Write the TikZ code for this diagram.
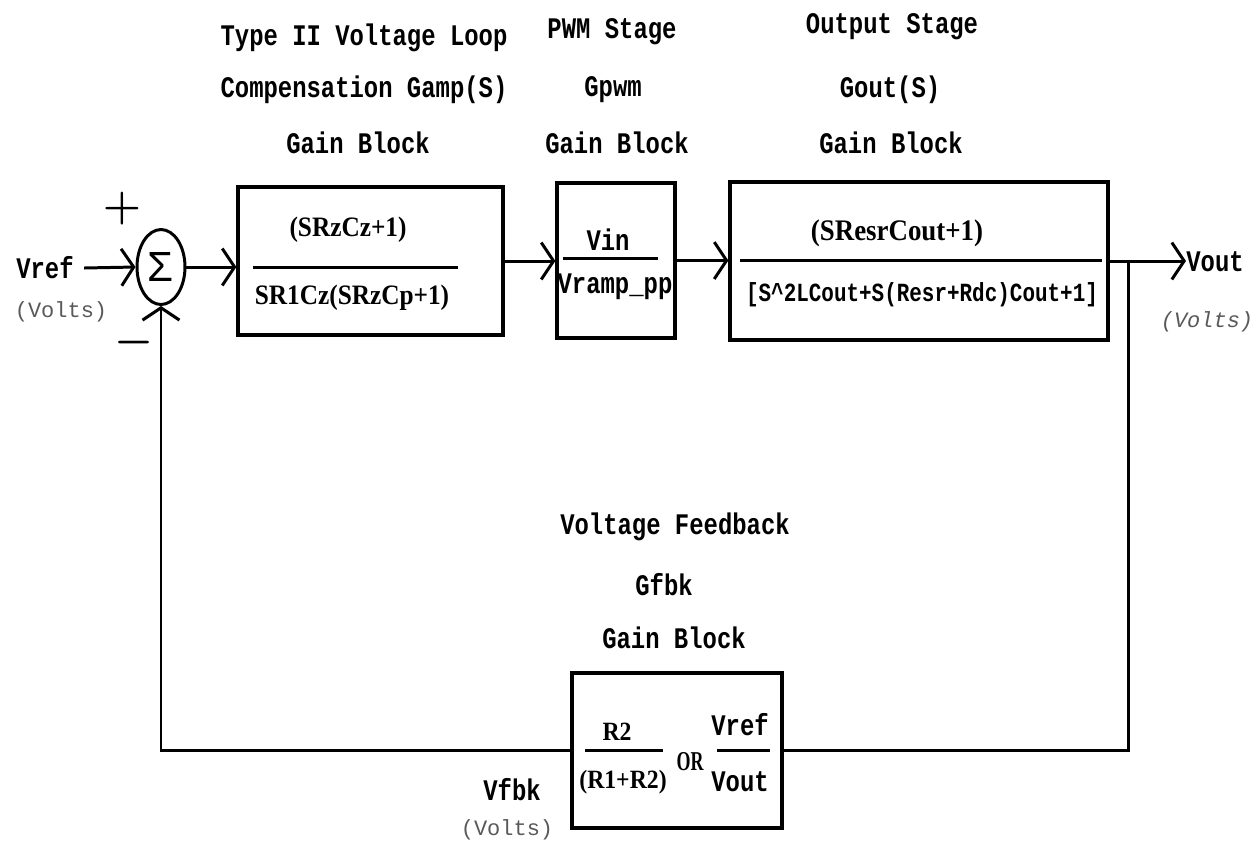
\documentclass[tikz,border=0pt]{standalone}
\usepackage{fontspec}
\setmainfont{Liberation Serif}
\newfontfamily\lblfont[FakeStretch=0.8]{Liberation Mono}
\newfontfamily\voltfont{Liberation Mono}
\newfontfamily\fracfont[FakeStretch=0.9]{Liberation Serif}
\newfontfamily\orfont[FakeStretch=0.66]{Liberation Serif}
\newfontfamily\sigfont{Liberation Sans}
\usetikzlibrary{arrows.meta,shapes.geometric}

\tikzset{
  wire/.style={line width=1.7pt},
  sig/.style={wire, -{Straight Barb[length=7pt,width=21pt,line width=1.7pt]}},
  blk/.style={draw, line width=1.9pt, inner sep=0pt},
  lbl/.style={font=\lblfont\bfseries\fontsize{17}{20}\selectfont, inner sep=0pt},
  den/.style={font=\lblfont\bfseries\fontsize{14.9}{18}\selectfont, inner sep=0pt},
  frac/.style={font=\fracfont\bfseries\fontsize{16}{19}\selectfont, inner sep=0pt},
  volts/.style={font=\voltfont\fontsize{12.5}{15}\selectfont, text=black!65, inner sep=0pt},
  sign/.style={font=\boldmath\fontsize{24}{24}\selectfont, inner sep=0pt}
}

\begin{document}
\begin{tikzpicture}[x=0.02cm, y=-0.02cm]
        \useasboundingbox (0,0) rectangle (1260,843);
        % headings
        \node[lbl] (t1a) at (364,38) {Type II Voltage Loop};
        \node[lbl] (t1b) at (364,90) {Compensation Gamp(S)};
        \node[lbl] (t1c) at (358,143) {Gain Block};
        \node[lbl] (t2a) at (612,32) {PWM Stage};
        \node[lbl] (t2b) at (613,90) {Gpwm};
        \node[lbl] (t2c) at (617,143) {Gain Block};
        \node[lbl] (t3a) at (892,27) {Output Stage};
        \node[lbl] (t3b) at (890,90) {Gout(S)};
        \node[lbl] (t3c) at (891,143) {Gain Block};
        \node[lbl] (t4a) at (675,527) {Voltage Feedback};
        \node[lbl] (t4b) at (664,585) {Gfbk};
        \node[lbl] (t4c) at (674,638) {Gain Block};
        % summing junction
        \node[draw, ellipse, line width=1.7pt, minimum width=0.96cm, minimum height=1.5cm, inner sep=0pt,
              font=\sigfont\fontsize{24}{24}\selectfont] (sum) at (161,267) {Σ};
        \node[sign] (plus) at (122,209) {$+$};
        \node[sign] (minus) at (134,343) {$-$};
        \node[lbl] (vref) at (45,268) {Vref};
        \node[volts] (vrefv) at (61,312) {(Volts)};
        % blocks
        \node[blk, minimum width=5.3cm, minimum height=2.96cm] (gamp) at (370.5,261) {};
        \node[blk, minimum width=2.36cm, minimum height=3.1cm] (gpwm) at (616,260.5) {};
        \node[blk, minimum width=7.56cm, minimum height=3.16cm] (gout) at (919,261) {};
        \node[blk, minimum width=4.2cm, minimum height=3.1cm] (gfbk) at (677,750.5) {};
        % fractions
        \node[frac] (ganum) at (348,230) {(SRzCz+1)};
        \draw[wire] (253,267) -- (458,267);
        \node[frac] (gaden) at (352,298) {SR1Cz(SRzCp+1)};
        \node[lbl] (gpnum) at (608,240) {Vin};
        \draw[wire] (563,258) -- (658,258);
        \node[lbl] (gpden) at (615,287) {Vramp\_pp};
        \node[frac, font=\fracfont\bfseries\fontsize{17}{19}\selectfont] (gonum) at (897,233) {(SResrCout+1)};
        \draw[wire] (740,260) -- (1102,260);
        \node[den] (goden) at (922,295) {[S\textasciicircum 2LCout+S(Resr+Rdc)Cout+1]};
        \node[frac, font=\fracfont\bfseries\fontsize{15}{17}\selectfont] (gfnum) at (617,732) {R2};
        \draw[wire] (585,750) -- (663,750);
        \node[frac, font=\fracfont\bfseries\fontsize{15}{17}\selectfont] (gfden) at (623,782) {(R1+R2)};
        \node[frac, font=\orfont\bfseries\fontsize{15.5}{17}\selectfont] (gfor) at (690,762) {OR};
        \node[lbl] (gfnum2) at (740,725) {Vref};
        \draw[wire] (717,750) -- (770,750);
        \node[lbl] (gfden2) at (740,782) {Vout};
        % signals
        \node[lbl] (vout) at (1215,262) {Vout};
        \node[volts, font=\voltfont\itshape\fontsize{12.5}{15}\selectfont] (voutv) at (1207,322) {(Volts)};
        \node[lbl] (vfbk) at (512,790) {Vfbk};
        \node[volts] (vfbkv) at (507,830) {(Volts)};
        \coordinate (tap) at (1128,261);
        \draw[sig] ([xshift=0.2cm]vref.east) -- (sum.west);
        \draw[sig] (sum.east) -- (sum.east -| gamp.west);
        \draw[sig] (gamp.east) -- (gamp.east -| gpwm.west);
        \draw[sig] (gpwm.east) -- (gpwm.east -| gout.west);
        \draw[sig] (gout.east) -- (gout.east -| vout.west);
        \draw[wire] (tap) |- (gfbk.east);
        \draw[sig] (gfbk.west) -| (sum.south);
\end{tikzpicture}
\end{document}
